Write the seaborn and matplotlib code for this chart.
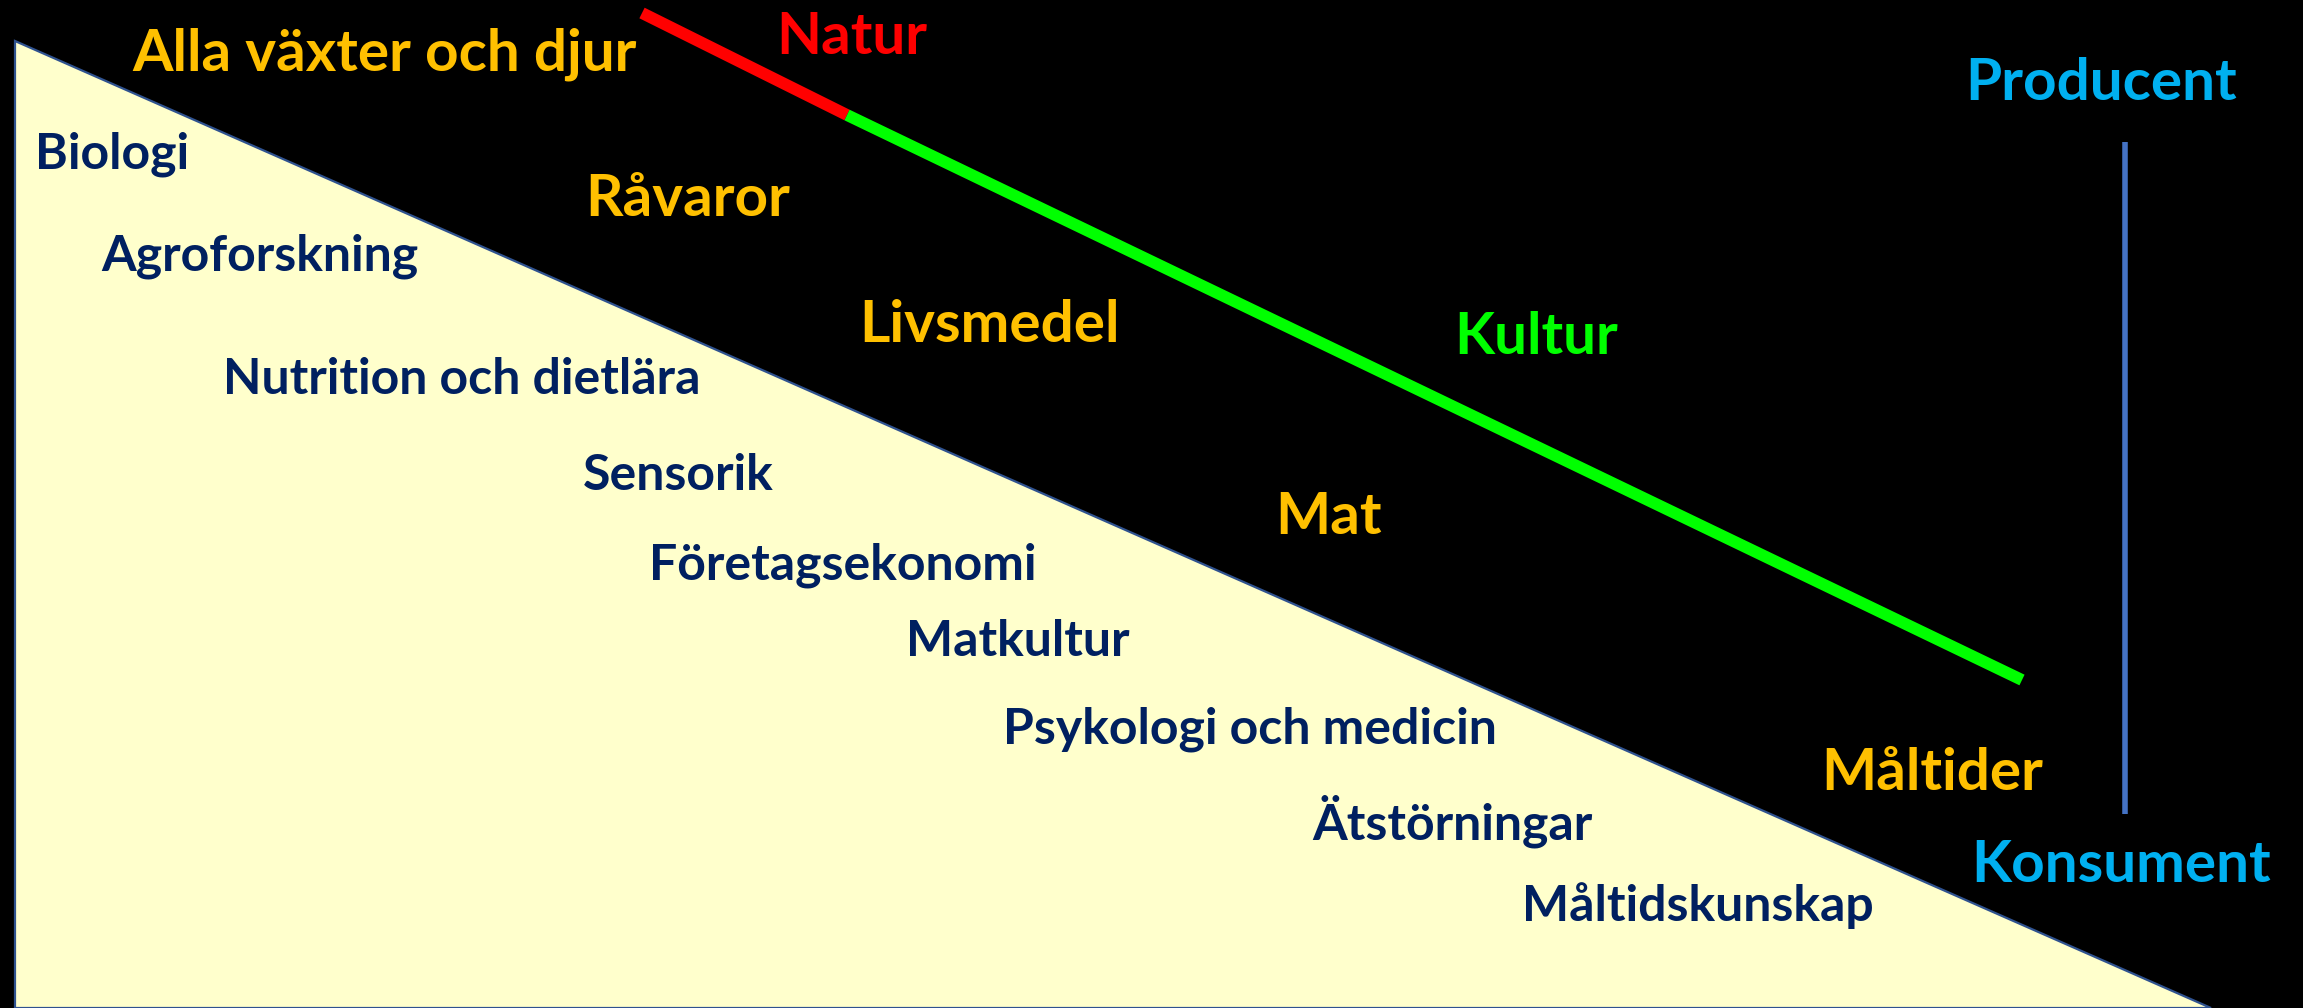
import matplotlib
matplotlib.use('Agg')
import matplotlib.pyplot as plt
import seaborn as sns
import pandas as pd

# Canvas in pixel units (y grows downward)
W, H = 2303, 1008

# Triangle (field of knowledge)
tri_x = [15, 15, 2211]
tri_y = [41, 1008, 1008]

# Natur -> Kultur line
natur_x = [642, 847]
natur_y = [13, 115]
kultur_x = [847, 2022]
kultur_y = [115, 680]

# Producent -> Konsument axis
axis_x = [2125, 2125]
axis_y = [142, 814]

# Orange chain labels
chain_labels = ['Alla växter och djur', 'Råvaror', 'Livsmedel', 'Mat', 'Måltider']
chain_x = [132, 585, 859, 1275, 1821]
chain_y = [54, 200, 326, 518, 774]

# Subject labels inside the triangle
subject_labels = ['Biologi', 'Agroforskning', 'Nutrition och dietlära', 'Sensorik',
                  'Företagsekonomi', 'Matkultur', 'Psykologi och medicin',
                  'Ätstörningar', 'Måltidskunskap']
subject_x = [35, 101, 223, 583, 649, 906, 1003, 1312, 1522]
subject_y = [154, 256, 379, 476, 565, 642, 729, 821, 906]

# Other labels
other_labels = ['Natur', 'Kultur', 'Producent', 'Konsument']
other_x = [776, 1454, 1965, 1971]
other_y = [37, 338, 84, 865]
other_colors = ['#FF0000', '#00FF00', '#00B0F0', '#00B0F0']

sns.set_theme(style='white')
plt.rcParams['font.family'] = ['Lato', 'DejaVu Sans']

fig = plt.figure(figsize=(W / 100, H / 100), dpi=100, facecolor='black')
ax = fig.add_axes([0, 0, 1, 1])
ax.set_facecolor('black')
ax.set_xlim(0, W)
ax.set_ylim(H, 0)
ax.axis('off')

ax.fill(tri_x, tri_y, facecolor='#FFFFCC', edgecolor='#2F528F', linewidth=1.6, zorder=1)

# estimator=None keeps seaborn from averaging points that share an x value
sns.lineplot(data=pd.DataFrame({'x': natur_x, 'y': natur_y}), x='x', y='y',
             color='#FF0000', linewidth=8.5, ax=ax, sort=False, estimator=None,
             solid_capstyle='butt', zorder=3)
sns.lineplot(data=pd.DataFrame({'x': kultur_x, 'y': kultur_y}), x='x', y='y',
             color='#00FF00', linewidth=8.5, ax=ax, sort=False, estimator=None,
             solid_capstyle='butt', zorder=3)
sns.lineplot(data=pd.DataFrame({'x': axis_x, 'y': axis_y}), x='x', y='y',
             color='#4472C4', linewidth=4, ax=ax, sort=False, estimator=None,
             solid_capstyle='butt', zorder=3)

for lab, x, y in zip(chain_labels, chain_x, chain_y):
    ax.text(x, y, lab, color='#FFC000', fontsize=42, fontweight='bold',
            ha='left', va='center', zorder=4)

for lab, x, y in zip(subject_labels, subject_x, subject_y):
    ax.text(x, y, lab, color='#002060', fontsize=36, fontweight='bold',
            ha='left', va='center', zorder=4)

for lab, x, y, c in zip(other_labels, other_x, other_y, other_colors):
    ax.text(x, y, lab, color=c, fontsize=42, fontweight='bold',
            ha='left', va='center', zorder=4)

ax.set_xlabel('')
ax.set_ylabel('')
fig.savefig('out.png', dpi=100, facecolor='black')
